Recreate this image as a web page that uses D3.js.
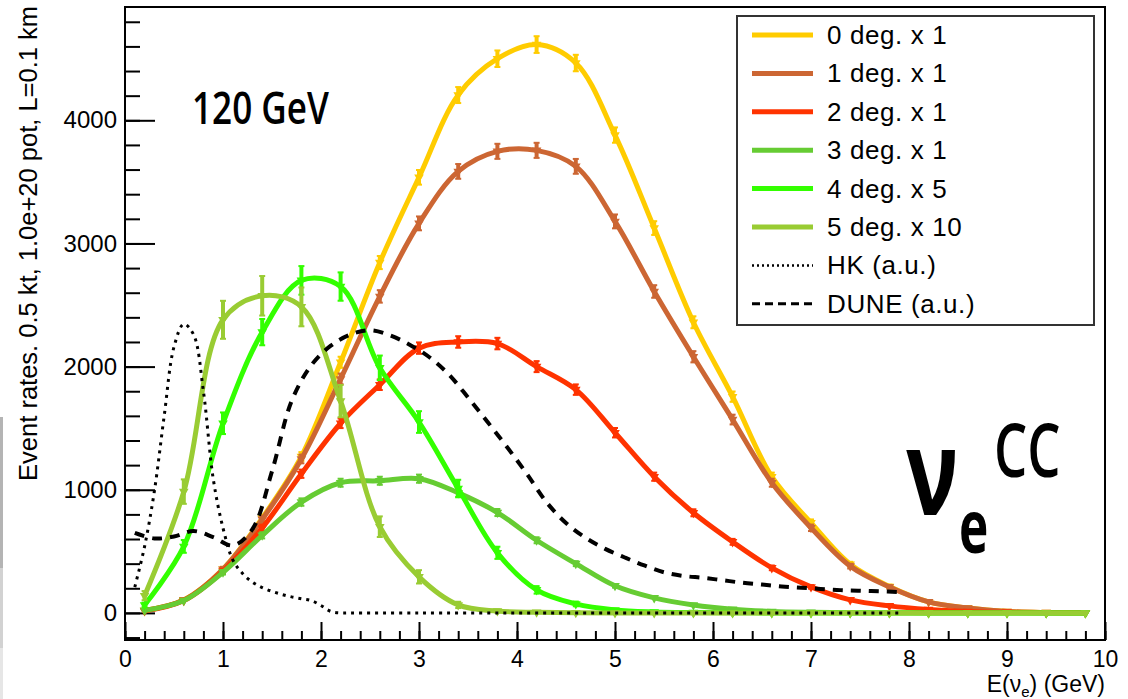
<!DOCTYPE html>
<html><head><meta charset="utf-8">
<script src="https://cdn.jsdelivr.net/npm/d3@7"></script>
<style>body{margin:0;background:#fff}svg{display:block}</style>
</head><body><svg id="c" width="1128" height="699"></svg>
<script>
// ---------------- data ----------------
const energies = [0.2,0.6,1.0,1.4,1.8,2.2,2.6,3.0,3.4,3.8,4.2,4.6,5.0,5.4,5.8,6.2,6.6,7.0,7.4,7.8,8.2,8.6,9.0,9.4,9.8];
const seriesLabels = ["0 deg. x 1","1 deg. x 1","2 deg. x 1","3 deg. x 1","4 deg. x 5","5 deg. x 10"];
const seriesColors = ["#ffcc00","#cc6633","#ff3300","#66cc33","#33ff00","#99cc33"];
const seriesScale = [1,1,1,1,5,10];
const rate0deg = [20,105,355,770,1270,2035,2845,3537,4205,4500,4615,4465,3880,3125,2360,1756,1106,732,395,215,90,40,12,3,1];
const rate1deg = [20,105,355,760,1250,1900,2570,3163,3585,3748,3756,3626,3179,2610,2080,1570,1057,691,380,211,90,40,12,3,1];
const rate2deg = [15,100,340,690,1130,1540,1853,2150,2200,2187,2000,1813,1463,1106,813,577,366,211,106,57,28,12,5,2,1];
const rate3deg = [20,100,330,630,900,1057,1073,1090,975,815,590,400,220,122,65,30,12,5,2,1,0,0,0,0,0];
const rate4deg = [65,540,1540,2280,2700,2650,1990,1550,1010,488,187,73,24,8,3,1,0,0,0,0,0,0,0,0,0];
const rate5deg = [140,985,2380,2575,2485,1720,700,293,65,15,5,1,0,0,0,0,0,0,0,0,0,0,0,0,0];
const hkEnergies = [0.1,0.2,0.3,0.4,0.5,0.6,0.7,0.8,0.9,1.0,1.1,1.2,1.3,1.4,1.5,1.6,1.7,1.8,1.9,2.0,2.1,2.2,2.3,3.0,4.0,5.0,6.0,7.0,7.9];
const hkRates    = [210,540,990,1600,2160,2345,2260,1800,1090,690,430,320,250,205,175,150,130,115,100,60,12,0,0,0,0,0,0,0,0];
const duneEnergies = [0.1,0.3,0.5,0.7,0.9,1.1,1.3,1.5,1.7,1.9,2.1,2.3,2.5,2.7,2.9,3.1,3.3,3.5,3.7,3.9,4.1,4.3,4.5,4.7,4.9,5.1,5.3,5.5,5.7,5.9,6.1,6.3,6.5,6.7,6.9,7.1,7.3,7.5,7.7,7.9];
const duneRates    = [650,605,620,665,615,548,680,1150,1720,2010,2170,2260,2295,2255,2180,2080,1940,1750,1550,1345,1130,900,730,610,520,450,385,330,300,285,265,245,230,215,205,195,185,180,175,170];
const xMajorTicks = [0,1,2,3,4,5,6,7,8,9,10];
const yMajorTicks = [0,1000,2000,3000,4000];
const yTitle = "Event rates. 0.5 kt, 1.0e+20 pot, L=0.1 km";
const extraLabels = ["HK (a.u.)","DUNE (a.u.)"];

const series = [rate0deg,rate1deg,rate2deg,rate3deg,rate4deg,rate5deg];

// ---------------- layout ----------------
const svg = d3.select("#c");
const L=125, R=1105, T=7, B=640;
const x = d3.scaleLinear().domain([0,10]).range([L,R]);
const y = d3.scaleLinear().domain([-220,4920]).range([B,T]);
const FONT = "'Liberation Sans', Arial, Helvetica, sans-serif";

// left edge artifact strip
svg.append("rect").attr("x",0).attr("y",417).attr("width",3).attr("height",151).attr("fill","#b4b4b4");
svg.append("rect").attr("x",0).attr("y",568).attr("width",3).attr("height",80).attr("fill","#d2d2d2");
svg.append("rect").attr("x",0).attr("y",648).attr("width",3).attr("height",51).attr("fill","#e6e6e6");

// ---------------- axes ----------------
const xMinor = d3.range(0,10.001,0.2).map(v=>+v.toFixed(1));
const yMinor = d3.range(-200,4801,200);

const gx = svg.append("g").attr("transform",`translate(0,${B})`);
gx.call(d3.axisBottom(x).tickValues(xMinor).tickSize(-9).tickFormat(""));
gx.append("g").call(d3.axisBottom(x).tickValues(xMajorTicks).tickSize(-18).tickPadding(12).tickFormat(d3.format("d")));
gx.selectAll(".domain").remove();
gx.selectAll("line").attr("stroke","#000").attr("stroke-width",2);
gx.selectAll("text").attr("font-family",FONT).attr("font-size",23).attr("fill","#000").attr("dy","0").attr("y",27);

const gy = svg.append("g").attr("transform",`translate(${L},0)`);
gy.call(d3.axisLeft(y).tickValues(yMinor).tickSize(-15).tickFormat(""));
gy.append("g").call(d3.axisLeft(y).tickValues(yMajorTicks).tickSize(-30).tickPadding(8).tickFormat(d3.format("d")));
gy.selectAll(".domain").remove();
gy.selectAll("line").attr("stroke","#000").attr("stroke-width",2);
gy.selectAll("text").attr("font-family",FONT).attr("font-size",24).attr("fill","#000").attr("x",-8);

// frame
svg.append("rect").attr("x",L).attr("y",T).attr("width",R-L).attr("height",B-T)
  .attr("fill","none").attr("stroke","#000").attr("stroke-width",2);

// axis titles
svg.append("text").attr("transform","translate(37,6) rotate(-90)")
  .attr("text-anchor","end").attr("font-family",FONT).attr("font-size",25.5).attr("fill","#000").text(yTitle);
const xt = svg.append("text").attr("x",R).attr("y",692).attr("text-anchor","end")
  .attr("font-family",FONT).attr("font-size",23).attr("fill","#000");
xt.append("tspan").text("E(ν");
xt.append("tspan").attr("font-size",15).attr("dy",5).text("e");
xt.append("tspan").attr("dy",-5).text(") (GeV)");

// ---------------- curves ----------------
const line = d3.line().x(d=>x(d[0])).y(d=>y(d[1])).curve(d3.curveCatmullRom.alpha(0.5));
const tri = d3.symbol().type(d3.symbolTriangle).size(40);

series.forEach((vals,i)=>{
  const pts = energies.map((e,k)=>[e,vals[k]]);
  const col = seriesColors[i];
  const g = svg.append("g");
  g.append("path").attr("d",line(pts)).attr("fill","none").attr("stroke",col).attr("stroke-width",5).attr("stroke-linejoin","round");
  pts.forEach(([e,v])=>{
    const err = Math.sqrt(v/seriesScale[i])*seriesScale[i];
    const cx = x(e), y1 = y(v+err), y2 = y(v-err);
    if (y2-y1 > 3) {
      g.append("line").attr("x1",cx).attr("x2",cx).attr("y1",y1).attr("y2",y2).attr("stroke",col).attr("stroke-width",4);
      g.append("line").attr("x1",cx-3).attr("x2",cx+3).attr("y1",y1).attr("y2",y1).attr("stroke",col).attr("stroke-width",2);
      g.append("line").attr("x1",cx-3).attr("x2",cx+3).attr("y1",y2).attr("y2",y2).attr("stroke",col).attr("stroke-width",2);
    }
    g.append("path").attr("d",tri()).attr("transform",`translate(${cx},${y(v)}) rotate(180)`).attr("fill",col);
  });
});

// HK dotted
svg.append("path").attr("d",line(hkEnergies.map((e,k)=>[e,hkRates[k]])))
  .attr("fill","none").attr("stroke","#000").attr("stroke-width",3).attr("stroke-dasharray","3,5");
// DUNE dashed
svg.append("path").attr("d",line(duneEnergies.map((e,k)=>[e,duneRates[k]])))
  .attr("fill","none").attr("stroke","#000").attr("stroke-width",4).attr("stroke-dasharray","10,8");

// ---------------- legend ----------------
const lg = svg.append("g");
lg.append("rect").attr("x",737).attr("y",16).attr("width",357).attr("height",309)
  .attr("fill","#fff").attr("stroke","#333").attr("stroke-width",2);
const rowY = k => 35 + k*38.4;
const legendItems = seriesLabels.map((t,i)=>({t,col:seriesColors[i],dash:null,w:5}))
  .concat([{t:extraLabels[0],col:"#000",dash:"2,3",w:2.5},{t:extraLabels[1],col:"#000",dash:"8,5",w:3}]);
legendItems.forEach((it,k)=>{
  lg.append("line").attr("x1",752).attr("x2",813).attr("y1",rowY(k)).attr("y2",rowY(k))
    .attr("stroke",it.col).attr("stroke-width",it.w).attr("stroke-dasharray",it.dash);
  lg.append("text").attr("x",827).attr("y",rowY(k)+9).attr("font-family",FONT).attr("font-size",26)
    .attr("letter-spacing",0.6).attr("fill","#000").text(it.t);
});

// ---------------- annotations ----------------
const AF = "'Open Sans', 'Noto Sans', sans-serif";
svg.append("text").attr("transform","translate(192,124) scale(0.78,1)")
  .attr("font-family",AF).attr("font-weight",600).attr("font-size",45).attr("fill","#000").text("120 GeV");
svg.append("text").attr("transform","translate(906,515) scale(0.74,1)")
  .attr("font-family",AF).attr("font-weight",700).attr("font-size",119).attr("fill","#000").text("ν");
svg.append("text").attr("transform","translate(959,553) scale(0.68,1)")
  .attr("font-family",AF).attr("font-weight",700).attr("font-size",73).attr("fill","#000").text("e");
svg.append("text").attr("transform","translate(994,477) scale(0.7,1)")
  .attr("font-family",AF).attr("font-weight",600).attr("font-size",75).attr("fill","#000").text("CC");
</script></body></html>
